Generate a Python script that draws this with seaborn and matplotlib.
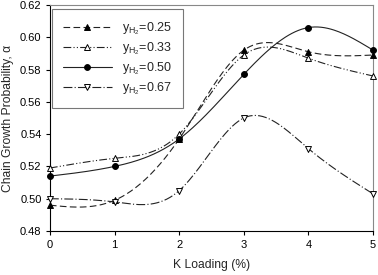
import numpy as np
import pandas as pd
import matplotlib
matplotlib.use("Agg")
import matplotlib.pyplot as plt
import seaborn as sns

# K loading (%) and chain growth probability for each H2 fraction
k_loading = [0, 1, 2, 3, 4, 5]
alpha_025 = [0.496, 0.499, 0.537, 0.592, 0.591, 0.589]
alpha_033 = [0.519, 0.525, 0.540, 0.589, 0.587, 0.576]
alpha_050 = [0.514, 0.520, 0.537, 0.577, 0.606, 0.592]
alpha_067 = [0.500, 0.498, 0.505, 0.550, 0.531, 0.503]
series_names = ["0.25", "0.33", "0.50", "0.67"]
x_ticks = [0, 1, 2, 3, 4, 5]
y_ticks = [0.48, 0.50, 0.52, 0.54, 0.56, 0.58, 0.60, 0.62]


def natural_spline(x, y, n=200):
    # natural cubic spline through the points, for the smooth curve only
    x = np.asarray(x, float)
    y = np.asarray(y, float)
    m = len(x)
    h = np.diff(x)
    A = np.zeros((m, m))
    r = np.zeros(m)
    A[0, 0] = A[-1, -1] = 1
    for i in range(1, m - 1):
        A[i, i - 1] = h[i - 1]
        A[i, i] = 2 * (h[i - 1] + h[i])
        A[i, i + 1] = h[i]
        r[i] = 6 * ((y[i + 1] - y[i]) / h[i] - (y[i] - y[i - 1]) / h[i - 1])
    M = np.linalg.solve(A, r)
    xs = np.linspace(x[0], x[-1], n)
    idx = np.clip(np.searchsorted(x, xs) - 1, 0, m - 2)
    x0, x1 = x[idx], x[idx + 1]
    hh = x1 - x0
    t0 = x1 - xs
    t1 = xs - x0
    ys = (M[idx] * t0**3 + M[idx + 1] * t1**3) / (6 * hh) \
        + (y[idx] / hh - M[idx] * hh / 6) * t0 \
        + (y[idx + 1] / hh - M[idx + 1] * hh / 6) * t1
    return xs, ys


sns.set_style("ticks")
plt.rcParams['font.family'] = ['Liberation Sans', 'DejaVu Sans']
plt.rcParams['mathtext.fontset'] = 'custom'
plt.rcParams['mathtext.rm'] = 'Liberation Sans'

fig = plt.figure(figsize=(3.78, 2.75), dpi=100)
ax = fig.add_axes([0.132, 0.16, 0.855, 0.822])

styles = [
    dict(ls=(0, (6, 3)), marker="^", fc="black"),
    dict(ls=(0, (7, 2, 1, 2, 1, 2)), marker="^", fc="white"),
    dict(ls="-", marker="o", fc="black"),
    dict(ls=(0, (8, 2, 1, 2)), marker="v", fc="white"),
]
all_series = [alpha_025, alpha_033, alpha_050, alpha_067]

handles = []
for name, vals, st in zip(series_names, all_series, styles):
    xs, ys = natural_spline(k_loading, vals)
    ax.plot(xs, ys, color="#222222", lw=0.8, ls=st["ls"])
    df = pd.DataFrame({"k": k_loading, "a": vals})
    sns.scatterplot(data=df, x="k", y="a", marker=st["marker"], s=18,
                    color=st["fc"], edgecolor="black", linewidth=0.7,
                    ax=ax, clip_on=False, zorder=3)
    h, = ax.plot([], [], color="#222222", lw=0.8, ls=st["ls"],
                 marker=st["marker"], ms=4.2, mfc=st["fc"], mec="black", mew=0.7)
    handles.append((h, r"y$_{\mathregular{H_2}}$=" + name))

ax.set_xlim(0, 5)
ax.set_ylim(0.48, 0.62)
ax.set_xticks(x_ticks)
ax.set_yticks(y_ticks)
ax.set_yticklabels([f"{v:.2f}" for v in y_ticks])
ax.tick_params(direction="out", length=3, width=0.8, labelsize=8, colors="black")
ax.tick_params(axis="y", pad=3)
ax.set_xlabel("K Loading (%)", fontsize=8.75, labelpad=6.5)
ax.set_ylabel("Chain Growth Probability, \u03b1", fontsize=8.75, labelpad=4)
for side in ["top", "right"]:
    ax.spines[side].set_color("#888888")
for side in ["left", "bottom"]:
    ax.spines[side].set_color("black")
for sp in ax.spines.values():
    sp.set_linewidth(0.8)

leg = ax.legend([h for h, _ in handles], [l for _, l in handles],
                loc="upper left", bbox_to_anchor=(0.006, 0.982), borderaxespad=0,
                fontsize=9, frameon=True, fancybox=False, edgecolor="#555555",
                handlelength=3.9, handletextpad=0.8, labelspacing=0.28,
                borderpad=0.9)
leg.get_frame().set_linewidth(0.8)

fig.savefig("out.png", dpi=100)
